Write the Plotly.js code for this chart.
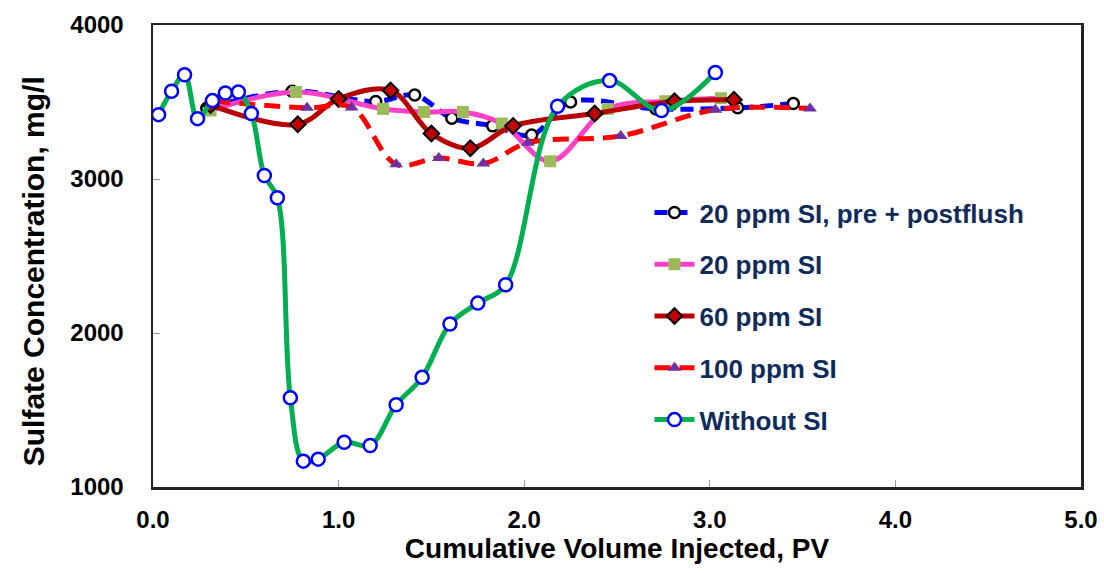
<!DOCTYPE html>
<html>
<head>
<meta charset="utf-8">
<script src="https://cdn.plot.ly/plotly-3.0.1.min.js"></script>
<style>html,body{margin:0;padding:0;background:#fff;}#chart{width:1104px;height:573px;}</style>
</head>
<body>
<div id="chart"></div>
<script>
// Series names
const seriesNames = ["20 ppm SI, pre + postflush", "20 ppm SI", "60 ppm SI", "100 ppm SI", "Without SI"];

// 20 ppm SI, pre + postflush
const prepostX = [0.29, 0.75, 1.20, 1.41, 1.61, 1.83, 2.04, 2.25, 2.71, 3.15, 3.45];
const prepostY = [3460, 3570, 3503, 3545, 3395, 3345, 3285, 3500, 3455, 3462, 3490];

// 20 ppm SI
const si20X = [0.31, 0.77, 1.24, 1.46, 1.67, 1.88, 2.14, 2.45, 2.76, 3.06];
const si20Y = [3445, 3565, 3455, 3435, 3435, 3360, 3115, 3455, 3505, 3525];

// 60 ppm SI
const si60X = [0.31, 0.78, 1.00, 1.28, 1.50, 1.71, 1.94, 2.38, 2.81, 3.13];
const si60Y = [3480, 3355, 3520, 3575, 3295, 3200, 3345, 3425, 3505, 3515];

// 100 ppm SI
const si100X = [0.33, 0.83, 1.07, 1.31, 1.54, 1.78, 2.02, 2.52, 3.03, 3.54];
const si100Y = [3505, 3462, 3465, 3095, 3137, 3100, 3235, 3280, 3450, 3457];

// Without SI
const noSiX = [0.03, 0.10, 0.17, 0.24, 0.32, 0.39, 0.46, 0.53, 0.60, 0.67, 0.74, 0.81, 0.89, 1.03, 1.17, 1.31, 1.45, 1.60, 1.75, 1.90, 2.18, 2.46, 2.74, 3.03];
const noSiY = [3418, 3570, 3677, 3392, 3509, 3558, 3565, 3425, 3023, 2878, 1579, 1168, 1181, 1291, 1270, 1534, 1712, 2058, 2194, 2313, 3472, 3639, 3444, 3692];

// Axis ticks and titles
const xTicks = [0, 1, 2, 3, 4, 5];
const xTickLabels = ["0.0", "1.0", "2.0", "3.0", "4.0", "5.0"];
const yTicks = [1000, 2000, 3000, 4000];
const yTickLabels = ["1000", "2000", "3000", "4000"];
const xTitle = 'Cumulative Volume Injected, PV';
const yTitle = 'Sulfate Concentration, mg/l';

const FONT = '"Liberation Sans", Arial, sans-serif';

const traces = [
  {
    x: prepostX, y: prepostY, name: seriesNames[0], type: 'scatter', mode: 'lines+markers',
    line: {color: '#0000FF', width: 5, dash: '13px,7px', shape: 'spline', smoothing: 1},
    marker: {symbol: 'circle', size: 11, color: '#FFFFFF', line: {color: '#000000', width: 2.5}},
    legendgroup: 'a'
  },
  {
    x: si20X, y: si20Y, name: seriesNames[1], type: 'scatter', mode: 'lines+markers',
    line: {color: '#FF40C8', width: 5, shape: 'spline', smoothing: 1},
    marker: {symbol: 'square', size: 12, color: '#9BBB59', line: {width: 0}},
    legendgroup: 'b'
  },
  {
    x: si60X, y: si60Y, name: seriesNames[2], type: 'scatter', mode: 'lines+markers',
    line: {color: '#B80000', width: 5, shape: 'spline', smoothing: 1},
    marker: {symbol: 'diamond', size: 12, color: '#C00000', line: {color: '#000000', width: 2}},
    legendgroup: 'c'
  },
  {
    x: si100X, y: si100Y, name: seriesNames[3], type: 'scatter', mode: 'lines+markers',
    line: {color: '#FF0000', width: 5, dash: '16px,9px', shape: 'spline', smoothing: 1},
    marker: {symbol: 'triangle-up', size: 12, color: '#7030A0', line: {width: 0}},
    legendgroup: 'd'
  },
  {
    x: noSiX, y: noSiY, name: seriesNames[4], type: 'scatter', mode: 'lines+markers',
    line: {color: '#00B050', width: 5, shape: 'spline', smoothing: 1},
    marker: {symbol: 'circle', size: 13, color: '#FFFFFF', line: {color: '#0000FF', width: 2.5}},
    legendgroup: 'e'
  }
];

const layout = {
  width: 1104, height: 573,
  margin: {l: 153, r: 23, t: 25, b: 86},
  paper_bgcolor: '#FFFFFF', plot_bgcolor: '#FFFFFF',
  font: {family: FONT, color: '#000000'},
  showlegend: true,
  legend: {
    x: 0.535, y: 0.645, xanchor: 'left', yanchor: 'top',
    bgcolor: 'rgba(0,0,0,0)',
    font: {family: FONT, size: 26, color: '#0F2B5B', weight: 'bold'},
    tracegroupgap: 15, itemwidth: 40
  },
  xaxis: {
    range: [0, 5], tickvals: xTicks, ticktext: xTickLabels,
    showgrid: false, zeroline: false,
    showline: true, mirror: true, linecolor: '#222222', linewidth: 2.5,
    ticks: 'inside', ticklen: 7, tickwidth: 1, tickcolor: '#999999',
    ticklabelstandoff: 10,
    tickfont: {family: FONT, size: 24, color: '#000000', weight: 'bold'},
    title: {text: xTitle, standoff: 4,
            font: {family: FONT, size: 28, color: '#000000', weight: 'bold'}}
  },
  yaxis: {
    range: [1000, 4000], tickvals: yTicks, ticktext: yTickLabels,
    showgrid: false, zeroline: false,
    showline: true, mirror: true, linecolor: '#222222', linewidth: 2.5,
    ticks: 'inside', ticklen: 7, tickwidth: 1, tickcolor: '#999999',
    ticklabelstandoff: 22,
    tickfont: {family: FONT, size: 24, color: '#000000', weight: 'bold'}
  },
  annotations: [{
    text: yTitle, textangle: -90, showarrow: false,
    xref: 'paper', yref: 'paper', x: 0, y: 0.467, xanchor: 'center', yanchor: 'middle',
    xshift: -120,
    font: {family: FONT, size: 30, color: '#000000', weight: 'bold'}
  }]
};

Plotly.newPlot('chart', traces, layout, {staticPlot: true, displayModeBar: false});
</script>
</body>
</html>
